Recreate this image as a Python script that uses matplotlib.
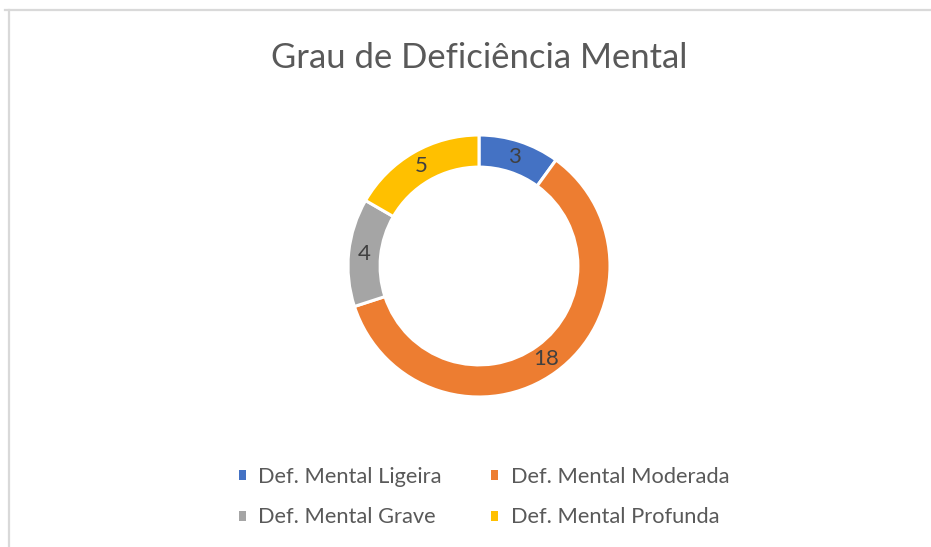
import matplotlib
matplotlib.use("Agg")
import matplotlib.pyplot as plt
from matplotlib.lines import Line2D
from matplotlib.patches import Patch

# data
categories = ["Def. Mental Ligeira", "Def. Mental Moderada",
              "Def. Mental Grave", "Def. Mental Profunda"]
values = [3, 18, 4, 5]
colors = ["#4472C4", "#ED7D31", "#A5A5A5", "#FFC000"]

W, H = 931, 547
plt.rcParams['font.family'] = ['Lato', 'DejaVu Sans']

fig = plt.figure(figsize=(W / 100, H / 100), dpi=100)

# light frame (top and left edges only visible)
fig.add_artist(Line2D([5 / W, 1], [1 - 10 / H, 1 - 10 / H], color="#d9d9d9", lw=1.6))
fig.add_artist(Line2D([9 / W, 9 / W], [0, 1 - 10 / H], color="#d9d9d9", lw=1.6))

# donut: center (479, 266) px, outer radius 131 px
cx, cy, r = 479, 266, 131
ax = fig.add_axes([(cx - r) / W, (H - cy - r) / H, 2 * r / W, 2 * r / H])
total = sum(values)
wedges, texts, autotexts = ax.pie(
    values, colors=colors, startangle=90, counterclock=False, radius=1,
    wedgeprops=dict(width=0.245, edgecolor="white", linewidth=2.2),
    autopct=lambda p: f"{round(p * total / 100)}", pctdistance=0.878,
    textprops=dict(fontsize=16, color="#404040"))
ax.set_xlim(-1, 1)
ax.set_ylim(-1, 1)
ax.set_aspect("equal")
ax.axis("off")

fig.text(cx / W, 1 - 68 / H, "Grau de Deficiência Mental", ha="center",
         va="baseline", fontsize=24.9, color="#595959")

handles = [Patch(facecolor=c, edgecolor="none") for c in colors]
# order so columns read: Ligeira/Grave, Moderada/Profunda
order = [0, 2, 1, 3]
leg = fig.legend([handles[i] for i in order], [categories[i] for i in order],
                 ncol=2, loc="center", bbox_to_anchor=(484 / W, 1 - 497 / H),
                 frameon=False, fontsize=15.75, labelcolor="#595959",
                 handlelength=0.33, handleheight=0.33, handletextpad=0.58,
                 columnspacing=2.24, labelspacing=0.95)

fig.savefig("out.png", dpi=100)
